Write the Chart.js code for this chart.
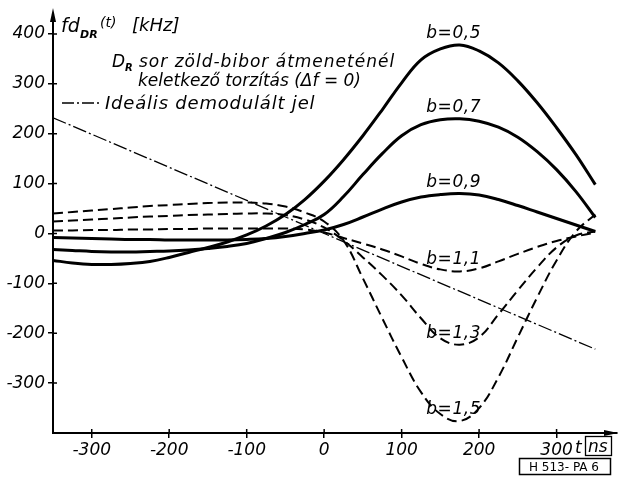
<!DOCTYPE html>
<html>
<head>
<meta charset="utf-8">
<script src="https://cdn.jsdelivr.net/npm/chart.js@4.4.1/dist/chart.umd.min.js"></script>
<style>
  html, body { margin: 0; padding: 0; background: #fff; }
  #wrap { width: 618px; height: 478px; position: relative; }
</style>
</head>
<body>
<div id="wrap"><canvas id="chart"></canvas></div>
<script>
// t [ns], every 25 ns from -350 to 350
const tNs = [-350, -325, -300, -275, -250, -225, -200, -175, -150, -125, -100, -75, -50, -25,
             0, 25, 50, 75, 100, 125, 150, 175, 200, 225, 250, 275, 300, 325, 350];

// fd_DR(t) [kHz] for each b
const b05 = [-54, -59, -62, -62, -60, -56, -48, -38, -28, -17, -3, 15, 38, 68,
             105, 148, 196, 248, 302, 348, 370, 378, 366, 342, 306, 262, 212, 158, 98];
const b07 = [-32, -34, -36, -37, -37, -36, -35, -33, -30, -26, -20, -10, 2, 18,
             38, 74, 118, 160, 196, 218, 228, 230, 225, 213, 193, 164, 128, 84, 32];
const b09 = [-8, -9, -10, -11, -12, -12, -13, -13, -13, -13, -12, -10, -6, 0,
             7, 18, 33, 49, 63, 73, 78, 80, 77, 68, 56, 43, 30, 17, 4];
const b11 = [6, 6, 7, 7, 8, 8, 9, 9, 10, 10, 10, 10, 10, 8,
             2, -9, -20, -32, -46, -61, -72, -76, -70, -56, -41, -27, -15, -6, 2];
const b13 = [24, 26, 28, 30, 32, 34, 35, 37, 38, 39, 40, 40, 37, 28,
             12, -14, -48, -84, -124, -170, -210, -223, -208, -162, -114, -68, -28, -4, 4];
const b15 = [40, 43, 46, 49, 52, 55, 57, 59, 61, 62, 62, 60, 54, 42,
             24, -14, -90, -170, -248, -318, -362, -376, -350, -288, -208, -128, -54, 4, 38];

// ideális demodulált jel
const idealT = [-350, 350];
const idealF = [232, -232];

const yTicks = [-300, -200, -100, 0, 100, 200, 300, 400];
const xTicks = [-300, -200, -100, 0, 100, 200, 300];

const curveNames = ['b=0,5', 'b=0,7', 'b=0,9', 'b=1,1', 'b=1,3', 'b=1,5'];

function pts(xs, ys){
    return xs.map((x, i) => ({x: x, y: ys[i]}));
}

function solid(name, vals){
    return { label: name, data: pts(tNs, vals), borderColor: '#000', borderWidth: 3,
             pointRadius: 0, tension: 0.4, fill: false };
}
function dashed(name, vals){
    return { label: name, data: pts(tNs, vals), borderColor: '#000', borderWidth: 2,
             borderDash: [10, 5], pointRadius: 0, tension: 0.4, fill: false };
}

const tickFont = { family: 'DejaVu Sans', size: 17, style: 'italic' };

// everything the library has no option for: arrows, inner tick halves, texts
const decor = {
    id: 'decor',
    afterDraw(chart){
        const c = chart.ctx;
        const xs = chart.scales.x, ys = chart.scales.y;
        const a = chart.chartArea;
        c.save();
        c.strokeStyle = '#000';
        c.fillStyle = '#000';

        // tick halves inside the plot
        c.lineWidth = 1.5;
        c.beginPath();
        yTicks.forEach(v => { const p = ys.getPixelForValue(v); c.moveTo(a.left, p); c.lineTo(a.left + 4, p); });
        xTicks.forEach(v => { const p = xs.getPixelForValue(v); c.moveTo(p, a.bottom); c.lineTo(p, a.bottom - 4); });
        c.stroke();

        // arrows
        c.beginPath();
        c.moveTo(a.left, a.top - 6); c.lineTo(a.left - 3, a.top + 8); c.lineTo(a.left + 3, a.top + 8);
        c.closePath(); c.fill();
        c.beginPath();
        c.moveTo(a.right + 1, a.bottom); c.lineTo(a.right - 13, a.bottom - 3); c.lineTo(a.right - 13, a.bottom + 3);
        c.closePath(); c.fill();

        c.textBaseline = 'alphabetic';
        c.textAlign = 'left';

        // y axis title: f d_DR (t) [kHz]
        c.font = 'italic 19px "DejaVu Sans"';
        c.fillText('fd', 61, 32);
        c.font = 'italic bold 11px "DejaVu Sans"';
        c.fillText('DR', 80, 38);
        c.font = 'italic 14px "DejaVu Sans"';
        c.fillText('(t)', 100, 27);
        c.font = 'italic 18px "DejaVu Sans"';
        c.fillText('[kHz]', 132, 31);

        // description
        c.font = 'italic 17px "DejaVu Sans"';
        c.fillText('D', 112, 67);
        c.font = 'italic bold 10px "DejaVu Sans"';
        c.fillText('R', 125, 71);
        c.font = 'italic 17px "DejaVu Sans"';
        c.letterSpacing = '1px';
        c.fillText('sor zöld-bibor átmeneténél', 139, 67);
        c.letterSpacing = '0px';
        c.fillText('keletkező torzítás (Δf = 0)', 138, 86);
        c.font = 'italic 18px "DejaVu Sans"';
        c.letterSpacing = '0.8px';
        c.fillText('Ideális demodulált jel', 105, 109);
        c.letterSpacing = '0px';

        c.lineWidth = 1.3;
        c.setLineDash([12, 3, 2, 3]);
        c.beginPath(); c.moveTo(62, 103); c.lineTo(100, 103); c.stroke();
        c.setLineDash([]);

        // curve labels, above each curve's extreme point
        c.font = 'italic 17px "DejaVu Sans"';
        c.letterSpacing = '0.6px';
        c.textAlign = 'center';
        const sets = chart.data.datasets;
        curveNames.forEach(name => {
            const ds = sets.find(d => d.label === name);
            let best = ds.data[0];
            ds.data.forEach(p => { if (Math.abs(p.y) > Math.abs(best.y)) best = p; });
            const px = xs.getPixelForValue(best.x);
            const py = ys.getPixelForValue(best.y);
            c.fillText(name, px - 6, py - 7);
        });
        c.letterSpacing = '0px';

        // x axis unit
        c.textAlign = 'left';
        c.font = 'italic 17px "DejaVu Sans"';
        c.fillText('t', 575, 453);
        c.fillText('ns', 588, 452);
        c.lineWidth = 1.3;
        c.strokeRect(585.5, 436.5, 26, 19);

        // figure code
        c.font = '12px "DejaVu Sans"';
        c.textAlign = 'center';
        c.fillText('H 513- PA 6', 564, 471);
        c.lineWidth = 1.5;
        c.strokeRect(519.5, 458.5, 91, 16);

        c.restore();
    }
};

const chart = new Chart(document.getElementById('chart'), {
    type: 'line',
    data: {
        datasets: [
            solid('b=0,5', b05),
            solid('b=0,7', b07),
            solid('b=0,9', b09),
            dashed('b=1,1', b11),
            dashed('b=1,3', b13),
            dashed('b=1,5', b15),
            { label: 'ideal', data: pts(idealT, idealF), borderColor: '#000', borderWidth: 1.3,
              borderDash: [14, 3, 2, 3], pointRadius: 0, tension: 0, fill: false }
        ]
    },
    options: {
        responsive: true,
        maintainAspectRatio: false,
        animation: false,
        layout: { padding: { top: 14, right: 1, left: 0, bottom: 0 } },
        plugins: { legend: { display: false }, tooltip: { enabled: false } },
        scales: {
            x: {
                type: 'linear', min: -350, max: 378,
                afterBuildTicks: s => { s.ticks = xTicks.map(v => ({value: v})); },
                afterFit: s => { s.height = 45; },
                grid: { drawOnChartArea: false, color: '#000', lineWidth: 1.5, tickLength: 5 },
                border: { color: '#000', width: 2 },
                ticks: { color: '#000', font: tickFont, padding: 2, maxRotation: 0, autoSkip: false }
            },
            y: {
                min: -400, max: 440,
                afterBuildTicks: s => { s.ticks = yTicks.map(v => ({value: v})); },
                afterFit: s => { s.width = 53; },
                grid: { drawOnChartArea: false, color: '#000', lineWidth: 1.5, tickLength: 5 },
                border: { color: '#000', width: 2 },
                ticks: { color: '#000', font: tickFont, padding: 3 }
            }
        }
    },
    plugins: [decor]
});
</script>
</body>
</html>
